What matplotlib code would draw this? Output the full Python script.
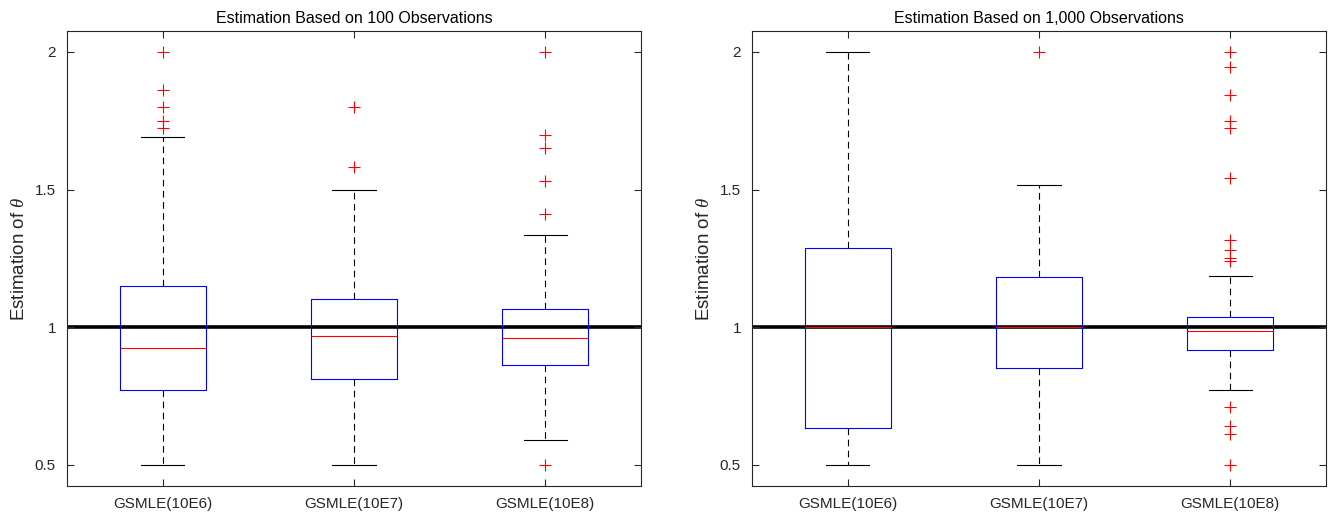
import matplotlib
matplotlib.use("Agg")
import matplotlib.pyplot as plt

plt.rcParams['font.family'] = ['Liberation Sans', 'DejaVu Sans']
plt.rcParams['mathtext.fontset'] = 'custom'
plt.rcParams['mathtext.it'] = 'Liberation Serif:italic'

# ======================================
# DATA
# ======================================

labels = ['GSMLE(10E6)', 'GSMLE(10E7)', 'GSMLE(10E8)']

# 100 observations
n100_q1 = [0.773, 0.811, 0.864]
n100_med = [0.926, 0.968, 0.961]
n100_q3 = [1.150, 1.101, 1.066]
n100_lo = [0.5, 0.5, 0.589]
n100_hi = [1.690, 1.5, 1.334]
n100_out = [
    [2.0, 1.863, 1.800, 1.748, 1.724],
    [1.800, 1.581],
    [2.0, 1.699, 1.650, 1.533, 1.410, 0.5],
]

# 1,000 observations
n1000_q1 = [0.636, 0.851, 0.919]
n1000_med = [1.0, 1.0, 0.987]
n1000_q3 = [1.289, 1.183, 1.036]
n1000_lo = [0.5, 0.5, 0.774]
n1000_hi = [2.0, 1.515, 1.186]
n1000_out = [
    [],
    [2.0],
    [2.0, 1.944, 1.843, 1.751, 1.723, 1.544, 1.316, 1.280, 1.250, 1.241,
     0.709, 0.640, 0.613, 0.5],
]

titles = ['Estimation Based on 100 Observations',
          'Estimation Based on 1,000 Observations']
true_theta = 1.0


def make_stats(q1, med, q3, lo, hi, out):
    stats = []
    for i in range(len(labels)):
        stats.append({
            'label': labels[i],
            'q1': q1[i], 'med': med[i], 'q3': q3[i],
            'whislo': lo[i], 'whishi': hi[i],
            'fliers': out[i],
        })
    return stats


panels = [
    make_stats(n100_q1, n100_med, n100_q3, n100_lo, n100_hi, n100_out),
    make_stats(n1000_q1, n1000_med, n1000_q3, n1000_lo, n1000_hi, n1000_out),
]

fig = plt.figure(figsize=(13.29, 5.16), dpi=100)
positions = [
    [67 / 1329, 30.4 / 516, 574 / 1329, 454.3 / 516],
    [752 / 1329, 30.4 / 516, 574 / 1329, 454.3 / 516],
]

frame = '#262626'

for k in range(2):
    ax = fig.add_axes(positions[k])
    ax.axhline(true_theta, color='black', linewidth=2.6, zorder=1)
    ax.bxp(
        panels[k],
        positions=[1, 2, 3],
        widths=0.45,
        showfliers=True,
        boxprops=dict(color='blue', linewidth=0.8),
        medianprops=dict(color='red', linewidth=0.8),
        whiskerprops=dict(color='black', linewidth=0.8,
                          linestyle=(0, (6, 4))),
        capprops=dict(color='black', linewidth=0.8),
        flierprops=dict(marker='+', markeredgecolor='red',
                        markersize=8, markeredgewidth=0.8, linestyle='none'),
        capwidths=0.225,
        zorder=2,
    )
    ax.set_xlim(0.5, 3.5)
    ax.set_ylim(0.425, 2.075)
    ax.set_yticks([0.5, 1, 1.5, 2])
    ax.set_yticklabels(['0.5', '1', '1.5', '2'])
    ax.set_xticks([1, 2, 3])
    ax.set_xticklabels(labels)
    ax.tick_params(direction='in', top=True, right=True, length=5,
                   width=0.8, color=frame, labelsize=11, labelcolor=frame,
                   pad=8)
    for s in ax.spines.values():
        s.set_color(frame)
        s.set_linewidth(0.8)
    ax.set_title(titles[k], fontsize=11.5, color='black', pad=6)
    ax.set_ylabel(r'Estimation of $\theta$', fontsize=13.5, color=frame,
                  labelpad=5)

fig.savefig('out.png', dpi=100)
